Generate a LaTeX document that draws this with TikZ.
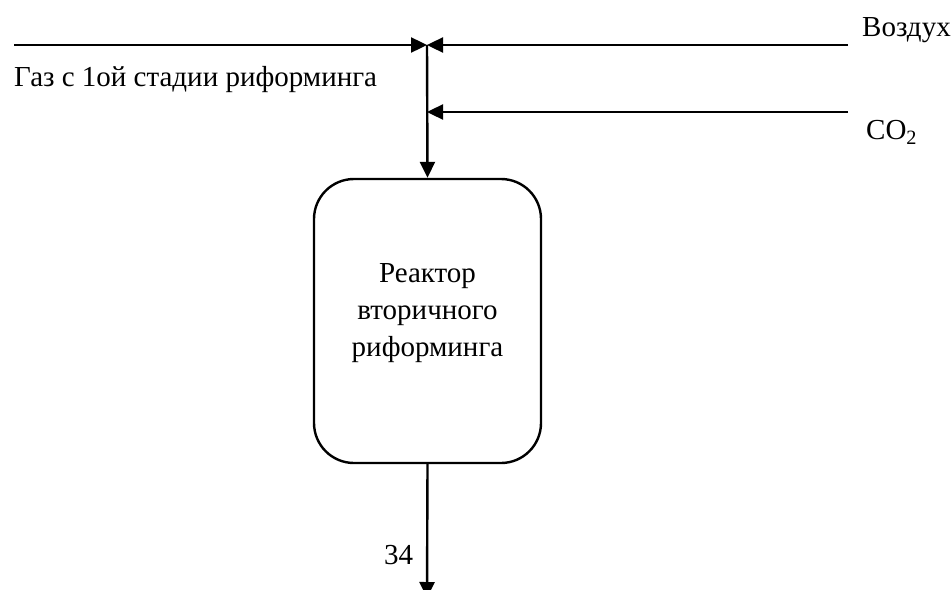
\documentclass[tikz,border=0pt]{standalone}
\usepackage{fontspec}
\setmainfont{Liberation Serif}
\usetikzlibrary{arrows.meta}
\begin{document}
\begin{tikzpicture}[x=1pt,y=-1pt,
  flow/.style={line width=2.4pt,-{Triangle[length=16pt,width=15pt]}},
  lbl/.style={inner sep=0pt,font=\fontsize{29}{37}\selectfont},
  reactor/.style={draw,line width=2.4pt,rounded corners=40pt,minimum width=227pt,minimum height=284pt,inner sep=0pt}]
\useasboundingbox (0,0) rectangle (952,589);
\clip (0,0) rectangle (952,589);
\coordinate (J) at (427,45);
\coordinate (L) at (14,45);
\coordinate (R) at (848,45);
\coordinate (C) at (848,112);
\coordinate (CJ) at (427,112);
\coordinate (E) at (427,598);
\node[reactor] (box) at (427.5,321) {};
\node[lbl,align=center] (boxtext) at (427.5,313) {Реактор\\вторичного\\риформинга};
\draw[flow] (L) -- (J);
\draw[flow] (R) -- (J);
\draw[flow] (J) -- (box.north);
\draw[flow] (C) -- (CJ);
\draw[flow] (box.south) -- (E);
\node[lbl,anchor=west] (gas) at (14,80) {Газ с 1ой стадии риформинга};
\node[lbl,anchor=west] (air) at (862,30) {Воздух};
\node[lbl,anchor=west] (co2) at (866,132) {CO\textsubscript{2}};
\node[lbl,anchor=west] (n34) at (384,555) {34};
\end{tikzpicture}
\end{document}
